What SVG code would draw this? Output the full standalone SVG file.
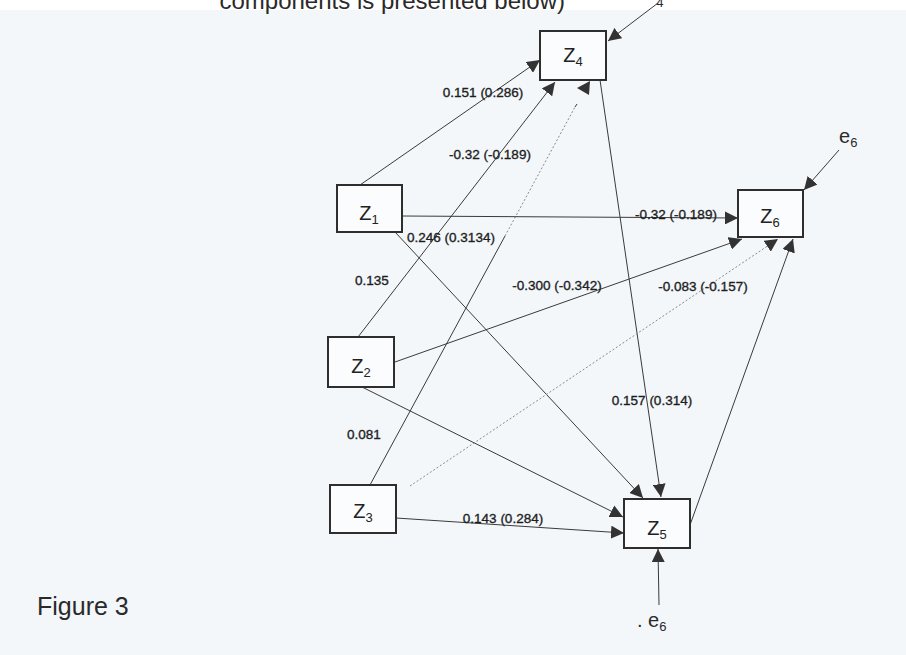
<svg xmlns="http://www.w3.org/2000/svg" width="906" height="655" viewBox="0 0 906 655">
<style>
.node rect{fill:#fafcfd;stroke:#2e2e2e;stroke-width:2}
.nt{font-family:"Liberation Sans",Arial,sans-serif;font-size:20px;fill:#222}
.sub{font-size:13px}
.lbl{font-family:"Liberation Sans",Arial,sans-serif;font-size:13.5px;fill:#1e1e1e;stroke:#1e1e1e;stroke-width:0.35px;text-anchor:middle}
.edge{stroke:#3a3a3a;stroke-width:1;fill:none}
.faint{stroke:#8a8a8a;stroke-width:1;stroke-dasharray:2 2;fill:none}
</style>
<defs>
<marker id="arr" markerUnits="userSpaceOnUse" markerWidth="14" markerHeight="13" refX="13" refY="6.5" orient="auto">
<path d="M0,0 L13,6.5 L0,13 z" fill="#333"/>
</marker>
</defs>
<rect x="0" y="0" width="906" height="655" fill="#ffffff"/>
<rect x="0" y="10" width="906" height="645" fill="#f3f7fa"/>
<text x="565" y="9" text-anchor="end" font-family="'Liberation Sans',Arial,sans-serif" font-size="24" fill="#2a2a2a">components is presented below)</text>
<text x="645" y="-2" font-family="'Liberation Sans',Arial,sans-serif" font-size="20" fill="#2a2a2a">e<tspan font-size="13" dy="9">4</tspan></text>

<g id="connectors">
<line class="edge" x1="658" y1="3" x2="608" y2="41" marker-end="url(#arr)"/>
<line class="edge" x1="360" y1="185" x2="540" y2="60" marker-end="url(#arr)"/>
<line class="edge" x1="358" y1="337" x2="555" y2="82" marker-end="url(#arr)"/>
<line class="edge" x1="370" y1="485" x2="505" y2="236"/>
<line class="faint" x1="505" y1="236" x2="575" y2="107"/>
<line class="edge" x1="575" y1="107" x2="577" y2="104"/>
<path d="M590,81 L577,88 L589,95 z" fill="#333"/>
<line class="edge" x1="600" y1="80" x2="661" y2="497" marker-end="url(#arr)"/>
<line class="edge" x1="402" y1="216" x2="738" y2="218" marker-end="url(#arr)"/>
<line class="edge" x1="395" y1="232" x2="643" y2="498" marker-end="url(#arr)"/>
<line class="edge" x1="395" y1="362" x2="742" y2="239" marker-end="url(#arr)"/>
<line class="edge" x1="362" y1="387" x2="623" y2="517" marker-end="url(#arr)"/>
<line class="faint" x1="410" y1="486" x2="778" y2="239" marker-end="url(#arr)"/>
<line class="edge" x1="396" y1="518" x2="624" y2="533" marker-end="url(#arr)"/>
<line class="edge" x1="690" y1="525" x2="793" y2="239" marker-end="url(#arr)"/>
<line class="edge" x1="839" y1="150" x2="804" y2="190" marker-end="url(#arr)"/>
<line class="edge" x1="659" y1="605" x2="658" y2="549" marker-end="url(#arr)"/>
</g>

<g id="Z4" class="node"><rect x="540" y="31" width="66" height="49"/><text class="nt" x="573" y="62" text-anchor="middle">Z<tspan class="sub" dy="4">4</tspan></text></g>
<g id="Z1" class="node"><rect x="337" y="185" width="65" height="47"/><text class="nt" x="369" y="220" text-anchor="middle">Z<tspan class="sub" dy="4">1</tspan></text></g>
<g id="Z6" class="node"><rect x="738" y="190" width="65" height="47"/><text class="nt" x="770" y="223" text-anchor="middle">Z<tspan class="sub" dy="4">6</tspan></text></g>
<g id="Z2" class="node"><rect x="328" y="337" width="66" height="50"/><text class="nt" x="361" y="373" text-anchor="middle">Z<tspan class="sub" dy="4">2</tspan></text></g>
<g id="Z3" class="node"><rect x="330" y="485" width="66" height="48"/><text class="nt" x="363" y="518" text-anchor="middle">Z<tspan class="sub" dy="4">3</tspan></text></g>
<g id="Z5" class="node"><rect x="624" y="499" width="66" height="49"/><text class="nt" x="657" y="535" text-anchor="middle">Z<tspan class="sub" dy="4">5</tspan></text></g>

<g id="labels">
<text class="lbl" x="483" y="97">0.151 (0.286)</text>
<text class="lbl" x="490" y="159">-0.32 (-0.189)</text>
<text class="lbl" x="451" y="242">0.246 (0.3134)</text>
<text class="lbl" x="372" y="285">0.135</text>
<text class="lbl" x="557" y="290">-0.300 (-0.342)</text>
<text class="lbl" x="676" y="219">-0.32 (-0.189)</text>
<text class="lbl" x="703" y="291">-0.083 (-0.157)</text>
<text class="lbl" x="652" y="405">0.157 (0.314)</text>
<text class="lbl" x="364" y="439">0.081</text>
<text class="lbl" x="503" y="523">0.143 (0.284)</text>
</g>

<text x="839" y="143" font-family="'Liberation Sans',Arial,sans-serif" font-size="20" fill="#2a2a2a">e<tspan font-size="13" dy="4">6</tspan></text>
<text x="637" y="627" font-family="'Liberation Sans',Arial,sans-serif" font-size="20" fill="#2a2a2a">. e<tspan font-size="13" dy="4">6</tspan></text>
<text x="37" y="615" font-family="'Liberation Sans',Arial,sans-serif" font-size="25" fill="#2a2a2a">Figure 3</text>
</svg>
